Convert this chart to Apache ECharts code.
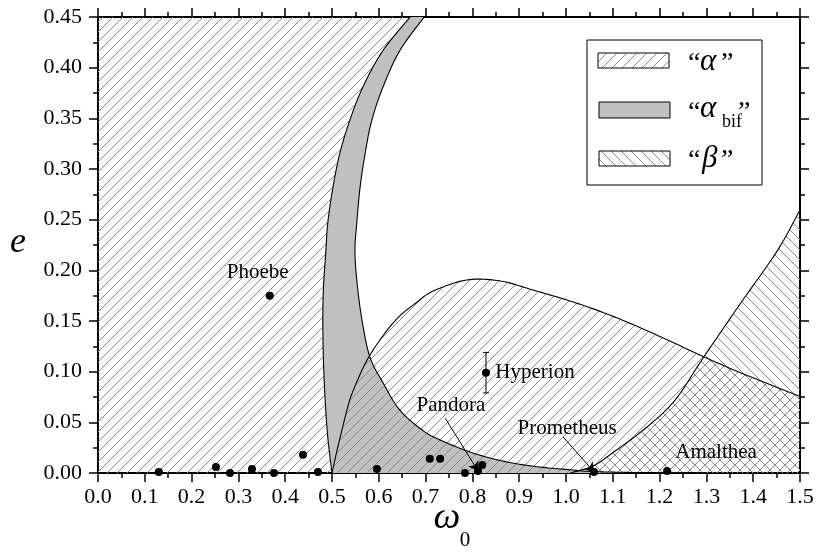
<!DOCTYPE html>
<html>
<head>
<meta charset="utf-8">
<title>e vs omega0 regions</title>
<script src="https://cdn.jsdelivr.net/npm/echarts@6/dist/echarts.min.js"></script>
<style>
  html, body { margin: 0; background: #fff; }
  #chart { width: 817px; height: 560px; }
</style>
</head>
<body>
<div id="chart"></div>
<script>
// boundary curves as [omega0, e]
var leftCurve = [[0.500, 0.000], [0.491, 0.035], [0.485, 0.075], [0.481, 0.124], [0.481, 0.174],
  [0.487, 0.220], [0.491, 0.247], [0.502, 0.282], [0.517, 0.316], [0.538, 0.348],
  [0.566, 0.381], [0.609, 0.417], [0.667, 0.450]];
var rightCurve = [[0.697, 0.450], [0.645, 0.417], [0.609, 0.381], [0.585, 0.348], [0.571, 0.316],
  [0.560, 0.282], [0.553, 0.247], [0.549, 0.220], [0.553, 0.190], [0.564, 0.151],
  [0.581, 0.1145], [0.609, 0.089], [0.645, 0.062], [0.694, 0.042], [0.731, 0.0326],
  [0.801, 0.0197], [0.874, 0.0109], [0.944, 0.0059], [1.015, 0.003], [1.051, 0.0015],
  [1.150, 0.0005], [1.300, 0.0]];
var humpCurve = [[0.500, 0.000], [0.511, 0.0227], [0.532, 0.0622], [0.545, 0.081], [0.575, 0.1115],
  [0.613, 0.138], [0.645, 0.155], [0.680, 0.168], [0.716, 0.1795], [0.788, 0.1905], [0.860, 0.1895],
  [0.929, 0.1806], [1.002, 0.1707], [1.073, 0.1595], [1.143, 0.1465], [1.216, 0.1315],
  [1.286, 0.1165], [1.357, 0.102], [1.429, 0.0885], [1.500, 0.0755]];
var betaCurve = [[1.009, 0.000], [1.058, 0.007], [1.100, 0.020], [1.173, 0.0454], [1.233, 0.072],
  [1.293, 0.1135], [1.372, 0.1668], [1.451, 0.219], [1.500, 0.2596]];

// satellites
var moonW = [0.130, 0.252, 0.282, 0.329, 0.376, 0.438, 0.470, 0.367, 0.596, 0.709, 0.731,
  0.784, 0.812, 0.821, 0.829, 1.060, 1.216];
var moonE = [0.001, 0.006, 0.000, 0.004, 0.000, 0.018, 0.001, 0.175, 0.004, 0.014, 0.014,
  0.000, 0.002, 0.008, 0.099, 0.001, 0.002];
var moonNames = ['', '', '', '', '', '', '', 'Phoebe', '', '', '',
  '', 'Pandora', '', 'Hyperion', 'Prometheus', 'Amalthea'];
var hyperionErr = [0.079, 0.119];
var arrowFrom = { Pandora: [0.742, 0.054], Prometheus: [0.994, 0.0355] };

var xMin = 0, xMax = 1.5, xStep = 0.1;
var yMin = 0, yMax = 0.45, yStep = 0.05;

var serif = 'Liberation Serif';

function hatch(dir) {
  var s = 10;
  var c = document.createElement('canvas');
  c.width = s; c.height = s;
  var g = c.getContext('2d');
  g.strokeStyle = '#8a8a8a';
  g.lineWidth = 1;
  g.beginPath();
  if (dir > 0) {
    g.moveTo(-1, s + 1); g.lineTo(s + 1, -1);
    g.moveTo(-1, 1); g.lineTo(1, -1);
    g.moveTo(s - 1, s + 1); g.lineTo(s + 1, s - 1);
  } else {
    g.moveTo(-1, -1); g.lineTo(s + 1, s + 1);
    g.moveTo(s - 1, -1); g.lineTo(s + 1, 1);
    g.moveTo(-1, s - 1); g.lineTo(1, s + 1);
  }
  g.stroke();
  return { image: c, repeat: 'repeat' };
}
var hatchA = hatch(1);
var hatchB = hatch(-1);
var grayFill = '#c0c0c0';

// catmull-rom through the pixel points, only for drawing the curves smoothly
function spline(p, n) {
  var out = [];
  for (var i = 0; i < p.length - 1; i++) {
    var p0 = p[Math.max(i - 1, 0)], p1 = p[i], p2 = p[i + 1], p3 = p[Math.min(i + 2, p.length - 1)];
    for (var k = 0; k < n; k++) {
      var t = k / n, t2 = t * t, t3 = t2 * t;
      var q = [0, 1].map(function (d) {
        return 0.5 * (2 * p1[d] + (p2[d] - p0[d]) * t +
          (2 * p0[d] - 5 * p1[d] + 4 * p2[d] - p3[d]) * t2 +
          (3 * p1[d] - p0[d] - 3 * p2[d] + p3[d]) * t3);
      });
      out.push(q);
    }
  }
  out.push(p[p.length - 1]);
  return out;
}

// a shape is a list of parts: {curve: [...]} drawn smooth, {pts: [...]} drawn straight
function toPixels(parts, api) {
  var out = [];
  parts.forEach(function (part) {
    if (part.curve) {
      out = out.concat(spline(part.curve.map(function (d) { return api.coord(d); }), 12));
    } else {
      out = out.concat(part.pts.map(function (d) { return api.coord(d); }));
    }
  });
  return out;
}

function polySeries(parts, fill) {
  return {
    type: 'custom', silent: true, data: [[0, 0]],
    renderItem: function (params, api) {
      return {
        type: 'polygon',
        shape: { points: toPixels(parts, api) },
        style: { fill: fill, stroke: null }
      };
    }
  };
}
function lineSeries(curve) {
  return {
    type: 'custom', silent: true, data: [[0, 0]],
    renderItem: function (params, api) {
      return {
        type: 'polyline',
        shape: { points: toPixels([{ curve: curve }], api) },
        style: { stroke: '#000', lineWidth: 1.1, fill: null }
      };
    }
  };
}

var leftShape = [{ pts: [[0, 0], [0, 0.45]] }, { curve: leftCurve.slice().reverse() }];
var grayShape = [{ curve: leftCurve }, { curve: rightCurve }];
var humpShape = [{ curve: humpCurve }, { pts: [[1.5, 0]] }];
var betaShape = [{ curve: betaCurve }, { pts: [[1.5, 0]] }];

var labelOffset = {
  Phoebe: [-12, -23], Hyperion: [49, 0], Pandora: [-27, -65],
  Prometheus: [-27, -44], Amalthea: [49, -18]
};
var moonData = moonW.map(function (w, i) {
  var item = { value: [w, moonE[i]] };
  if (moonNames[i]) {
    item.label = {
      show: true, position: 'inside', formatter: moonNames[i],
      offset: labelOffset[moonNames[i]], color: '#000', fontSize: 21,
      fontFamily: serif, textBorderWidth: 0
    };
  }
  return item;
});
function moonPos(name) {
  var i = moonNames.indexOf(name);
  return [moonW[i], moonE[i]];
}

var axisCommon = {
  type: 'value',
  axisLine: { show: true, onZero: false, lineStyle: { color: '#000', width: 2 } },
  axisTick: { show: true, inside: false, length: 9, lineStyle: { color: '#000', width: 1.5 } },
  minorTick: { show: true, splitNumber: 2, length: 5, lineStyle: { color: '#000', width: 1.5 } },
  splitLine: { show: false },
  minorSplitLine: { show: false }
};
function axis(extra) { return Object.assign({}, axisCommon, extra); }

function txt(x, y, s, size, italic, extra) {
  return {
    type: 'text', x: x, y: y, z: 11,
    style: Object.assign({
      text: s, fontSize: size, fontStyle: italic ? 'italic' : 'normal',
      fontFamily: serif, fill: '#000', verticalAlign: 'middle'
    }, extra || {})
  };
}

var chart = echarts.init(document.getElementById('chart'));
var option = {
  animation: false,
  textStyle: { fontFamily: serif },
  grid: { left: 98, right: 17, top: 17, bottom: 87 },
  xAxis: [
    axis({ position: 'bottom', min: xMin, max: xMax, interval: xStep,
      axisLabel: { margin: 13, fontSize: 22, color: '#000', formatter: function (v) { return v.toFixed(1); } } }),
    axis({ position: 'top', min: xMin, max: xMax, interval: xStep, axisLabel: { show: false } })
  ],
  yAxis: [
    axis({ position: 'left', min: yMin, max: yMax, interval: yStep,
      axisLabel: { margin: 16, fontSize: 22, color: '#000', formatter: function (v) { return v.toFixed(2); } } }),
    axis({ position: 'right', min: yMin, max: yMax, interval: yStep, axisLabel: { show: false } })
  ],
  series: [
    polySeries(grayShape, grayFill),
    polySeries(leftShape, hatchA),
    polySeries(humpShape, hatchA),
    polySeries(betaShape, hatchB),
    lineSeries(leftCurve),
    lineSeries(rightCurve),
    lineSeries(humpCurve),
    lineSeries(betaCurve),
    {
      type: 'custom', silent: true, data: [[moonPos('Hyperion')[0], hyperionErr[0], hyperionErr[1]]],
      renderItem: function (params, api) {
        var lo = api.coord([api.value(0), api.value(1)]);
        var hi = api.coord([api.value(0), api.value(2)]);
        var st = { stroke: '#000', lineWidth: 1 };
        return {
          type: 'group', children: [
            { type: 'line', shape: { x1: lo[0], y1: lo[1], x2: hi[0], y2: hi[1] }, style: st },
            { type: 'line', shape: { x1: lo[0] - 3, y1: lo[1], x2: lo[0] + 3, y2: lo[1] }, style: st },
            { type: 'line', shape: { x1: hi[0] - 3, y1: hi[1], x2: hi[0] + 3, y2: hi[1] }, style: st }
          ]
        };
      }
    },
    {
      type: 'scatter', silent: true, symbol: 'circle', symbolSize: 8,
      itemStyle: { color: '#000', opacity: 1 },
      data: moonData,
      markLine: {
        silent: true, symbol: ['none', 'arrow'], symbolSize: 9,
        lineStyle: { color: '#000', width: 1, type: 'solid', opacity: 1 },
        label: { show: false },
        data: [
          [{ coord: arrowFrom.Pandora }, { coord: moonPos('Pandora') }],
          [{ coord: arrowFrom.Prometheus }, { coord: moonPos('Prometheus') }]
        ]
      }
    }
  ],
  graphic: [
    { type: 'rect', shape: { x: 587, y: 40, width: 175, height: 145 }, style: { fill: '#fff', stroke: '#000', lineWidth: 1 }, z: 10 },
    { type: 'rect', shape: { x: 598, y: 53, width: 71, height: 15 }, style: { fill: hatchA, stroke: '#000', lineWidth: 1 }, z: 11 },
    { type: 'rect', shape: { x: 599, y: 102, width: 71, height: 16 }, style: { fill: grayFill, stroke: '#000', lineWidth: 1 }, z: 11 },
    { type: 'rect', shape: { x: 599, y: 151, width: 71, height: 15 }, style: { fill: hatchB, stroke: '#000', lineWidth: 1 }, z: 11 },
    txt(688, 64, '\u201c', 28, false),
    txt(700, 62, '\u03b1', 31, true),
    txt(721, 64, '\u201d', 28, false),
    txt(688, 113, '\u201c', 28, false),
    txt(700, 109, '\u03b1', 31, true),
    txt(722, 122, 'bif', 18, false),
    txt(738, 113, '\u201d', 28, false),
    txt(688, 161, '\u201c', 28, false),
    txt(702, 159, '\u03b2', 31, true),
    txt(721, 161, '\u201d', 28, false),
    txt(18, 243, 'e', 36, true, { align: 'center' }),
    txt(447, 518, '\u03c9', 38, true, { align: 'center' }),
    txt(465, 540, '0', 21, false, { align: 'center' })
  ]
};
chart.setOption(option);
</script>
</body>
</html>
